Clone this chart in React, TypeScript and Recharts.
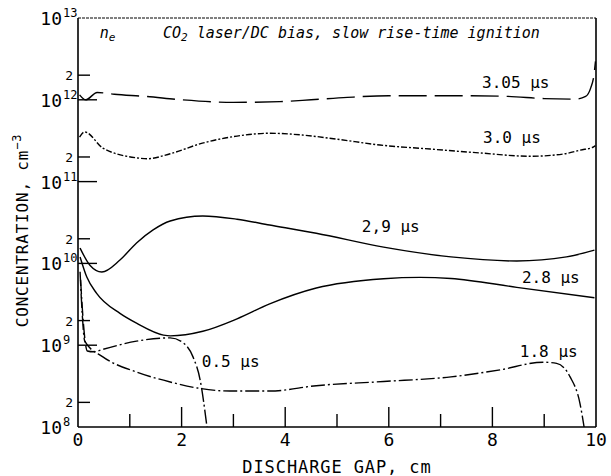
import React from 'react';
import { LineChart, Line, XAxis, YAxis, ReferenceLine, ReferenceDot } from 'recharts';

// Discharge gap positions (cm) and electron concentrations (cm^-3) per curve
const gap305 = [0.03, 0.15, 0.37, 0.7, 1.3, 2, 3, 3.9, 4.5, 5.2, 6, 7.5, 8.3, 9, 9.6, 9.8, 9.9, 9.96, 9.99];
const ne305 = [1.15e12, 1.0e12, 1.23e12, 1.17e12, 1.1e12, 1.0e12, 9.3e11, 9.5e11, 1.0e12, 1.07e12, 1.12e12, 1.12e12, 1.1e12, 1.035e12, 1.02e12, 1.1e12, 1.41e12, 2.0e12, 2.95e12];

const gap30 = [0.03, 0.13, 0.48, 1.14, 1.33, 1.78, 2.4, 3.07, 3.7, 4.35, 5.0, 5.83, 6.8, 7.76, 8.73, 9.4, 9.7, 9.94, 9.99];
const ne30 = [3.5e11, 4.05e11, 2.57e11, 1.95e11, 1.9e11, 2.19e11, 2.95e11, 3.6e11, 3.9e11, 3.7e11, 3.3e11, 2.8e11, 2.5e11, 2.24e11, 2.04e11, 2.19e11, 2.43e11, 2.63e11, 2.75e11];

const gap29 = [0.04, 0.23, 0.46, 0.81, 1.13, 1.45, 1.78, 2.41, 3.07, 3.7, 4.6, 5.9, 7.2, 8.47, 9.43, 9.97];
const ne29 = [1.54e10, 9.5e9, 7.85e9, 1.1e10, 1.78e10, 2.57e10, 3.3e10, 3.8e10, 3.47e10, 2.95e10, 2.34e10, 1.58e10, 1.2e10, 1.07e10, 1.2e10, 1.45e10];

const gap28 = [0.04, 0.17, 0.36, 0.81, 1.13, 1.65, 1.78, 2.41, 3.07, 3.7, 4.6, 5.9, 6.6, 7.2, 8.47, 9.97];
const ne28 = [1.2e10, 6.8e9, 4.3e9, 2.45e9, 1.86e9, 1.33e9, 1.3e9, 1.48e9, 2.1e9, 3.2e9, 5.0e9, 6.5e9, 6.75e9, 6.55e9, 5.1e9, 3.8e9];

const gap05 = [0.05, 0.1, 0.18, 0.3, 0.48, 1.13, 1.78, 2.03, 2.22, 2.36, 2.49];
const ne05 = [6.3e9, 2.0e9, 8.5e8, 8.3e8, 8.9e8, 1.12e9, 1.23e9, 1.07e9, 7.2e8, 3.7e8, 1.0e8];

const gap18 = [0.04, 0.08, 0.13, 0.48, 1.13, 1.78, 2.3, 2.93, 3.7, 4.6, 5.9, 7.2, 8.15, 8.98, 9.24, 9.5, 9.69, 9.77];
const ne18 = [7.9e9, 2.5e9, 1.12e9, 7.2e8, 4.7e8, 3.55e8, 3.0e8, 2.75e8, 2.75e8, 3.2e8, 3.6e8, 4.1e8, 5.0e8, 6.2e8, 6.0e8, 4.1e8, 1.95e8, 1.0e8];

const xTicks = [0, 1, 2, 3, 4, 5, 6, 7, 8, 9, 10];
const yTicks = [1e8, 2e8, 1e9, 2e9, 1e10, 2e10, 1e11, 2e11, 1e12, 2e12, 1e13];

// Curve labels: [text, gap position (left edge), concentration at baseline]
const curveLabels: [string, number, number][] = [
  ['3.05 µs', 7.8, 1.39e12],
  ['3.0 µs', 7.82, 2.97e11],
  ['2,9 µs', 5.48, 2.42e10],
  ['2.8 µs', 8.57, 5.75e9],
  ['0.5 µs', 2.39, 5.4e8],
  ['1.8 µs', 8.53, 7.2e8],
];

const MONO = '"DejaVu Sans Mono", monospace';

const toData = (xs: number[], ys: number[]) => xs.map((x, i) => ({ x, y: ys[i] }));

const XTick = (props: any) => {
  const { x, y, payload } = props;
  const v = payload.value;
  const major = v % 2 === 0;
  return (
    <g>
      {v !== 0 && v !== 10 && (
        <line x1={x} x2={x} y1={y} y2={y - (major ? 20 : 13)} stroke="#000" strokeWidth={1.4} />
      )}
      {major && (
        <text x={x} y={y + 19} textAnchor="middle" fontSize={18} fontFamily={MONO} fill="#000">
          {v}
        </text>
      )}
    </g>
  );
};

const YTick = (props: any) => {
  const { x, y, payload } = props;
  const v = payload.value;
  const exp = Math.round(Math.log10(v));
  const major = Math.abs(v - Math.pow(10, exp)) < v * 1e-6;
  return (
    <g>
      {v !== 1e8 && v !== 1e13 && (
        <line x1={x} x2={x + (major ? 19 : 12)} y1={y} y2={y} stroke="#000" strokeWidth={1.4} />
      )}
      {major ? (
        <g>
          <text x={x - 16} y={y + 7} textAnchor="end" fontSize={18} fontFamily={MONO} fill="#000">
            10
          </text>
          <text x={x - 15} y={y - 1} textAnchor="start" fontSize={12} fontFamily={MONO} fill="#000">
            {exp}
          </text>
        </g>
      ) : (
        <text x={x - 5} y={y + 5} textAnchor="end" fontSize={13} fontFamily={MONO} fill="#000">
          2
        </text>
      )}
    </g>
  );
};

const YTitle = (props: any) => {
  const vb = props.viewBox || { x: 0, y: 18, width: 78, height: 409 };
  const cx = vb.x + 28;
  const cy = vb.y + vb.height / 2 + 8;
  return (
    <text
      x={cx}
      y={cy}
      transform={`rotate(-90, ${cx}, ${cy})`}
      textAnchor="middle"
      fontSize={16}
      fontFamily={MONO}
      letterSpacing={0.8}
      fill="#000"
    >
      CONCENTRATION, cm
      <tspan fontSize={12} dy={-7}>−3</tspan>
    </text>
  );
};

const makeTextLabel = (text: string) => (props: any) => {
  const vb = props.viewBox || {};
  return (
    <text x={vb.x} y={vb.y} fontSize={16} fontFamily={MONO} fill="#000" style={{ whiteSpace: 'pre' }}>
      {text}
    </text>
  );
};

const NeLabel = (props: any) => {
  const vb = props.viewBox || {};
  return (
    <text x={vb.x} y={vb.y} fontSize={15} fontFamily={MONO} fontStyle="italic" fill="#000">
      n
      <tspan fontSize={11} dy={3}>e</tspan>
    </text>
  );
};

const TitleLabel = (props: any) => {
  const vb = props.viewBox || {};
  return (
    <text x={vb.x} y={vb.y} fontSize={15} fontFamily={MONO} fontStyle="italic" fill="#000" style={{ whiteSpace: 'pre' }}>
      CO
      <tspan fontSize={11} dy={3}>2</tspan>
      <tspan dy={-3}> laser/DC bias, slow rise-time ignition</tspan>
    </text>
  );
};

const XTitle = (props: any) => {
  const vb = props.viewBox || { x: 78, y: 427, width: 518, height: 49 };
  return (
    <text
      x={vb.x + vb.width / 2}
      y={vb.y + 46}
      textAnchor="middle"
      fontSize={17}
      fontFamily={MONO}
      letterSpacing={0.9}
      fill="#000"
    >
      DISCHARGE GAP, cm
    </text>
  );
};

export default function App() {
  const lineCommon = {
    type: 'monotone' as const,
    dataKey: 'y',
    stroke: '#000',
    strokeWidth: 1.4,
    dot: false,
    isAnimationActive: false,
    connectNulls: true,
  };
  return (
    <div style={{ position: 'absolute', left: 0, top: 0, width: 611, height: 476, background: '#fff' }}>
      <LineChart width={611} height={476} margin={{ top: 18, right: 15, bottom: 0, left: 0 }}>
        <XAxis
          dataKey="x"
          type="number"
          domain={[0, 10]}
          ticks={xTicks}
          interval={0}
          tickSize={0}
          tickMargin={0}
          tickLine={false}
          height={49}
          axisLine={{ stroke: '#000', strokeWidth: 1.6 }}
          tick={(p: any) => <XTick {...p} />}
          allowDataOverflow
          label={{ content: (p: any) => <XTitle {...p} /> }}
        />
        <YAxis
          type="number"
          scale="log"
          domain={[1e8, 1e13]}
          ticks={yTicks}
          interval={0}
          tickSize={0}
          tickMargin={0}
          tickLine={false}
          width={78}
          axisLine={{ stroke: '#000', strokeWidth: 1.6 }}
          tick={(p: any) => <YTick {...p} />}
          allowDataOverflow
          label={{ content: (p: any) => <YTitle {...p} /> }}
        />
        <ReferenceLine y={1e13} stroke="#000" strokeWidth={1} strokeDasharray="3 1" ifOverflow="visible" />
        <ReferenceLine x={10} stroke="#000" strokeWidth={1.6} ifOverflow="visible" />

        <Line {...lineCommon} data={toData(gap305, ne305)} strokeDasharray="28 8" name="3.05 µs" />
        <Line {...lineCommon} data={toData(gap30, ne30)} strokeDasharray="6 2 2 2" name="3.0 µs" />
        <Line {...lineCommon} data={toData(gap29, ne29)} name="2.9 µs" />
        <Line {...lineCommon} data={toData(gap28, ne28)} name="2.8 µs" />
        <Line {...lineCommon} data={toData(gap05, ne05)} strokeDasharray="14 3 2 3" name="0.5 µs" />
        <Line {...lineCommon} data={toData(gap18, ne18)} strokeDasharray="14 3 2 3" name="1.8 µs" />

        {curveLabels.map(([t, gx, cy]) => (
          <ReferenceDot key={t} x={gx} y={cy} r={0} ifOverflow="visible" stroke="none" fill="none" label={makeTextLabel(t)} />
        ))}
        <ReferenceDot x={0.42} y={5.7e12} r={0} ifOverflow="visible" stroke="none" fill="none" label={(p: any) => <NeLabel {...p} />} />
        <ReferenceDot x={1.64} y={5.7e12} r={0} ifOverflow="visible" stroke="none" fill="none" label={(p: any) => <TitleLabel {...p} />} />
      </LineChart>
    </div>
  );
}
